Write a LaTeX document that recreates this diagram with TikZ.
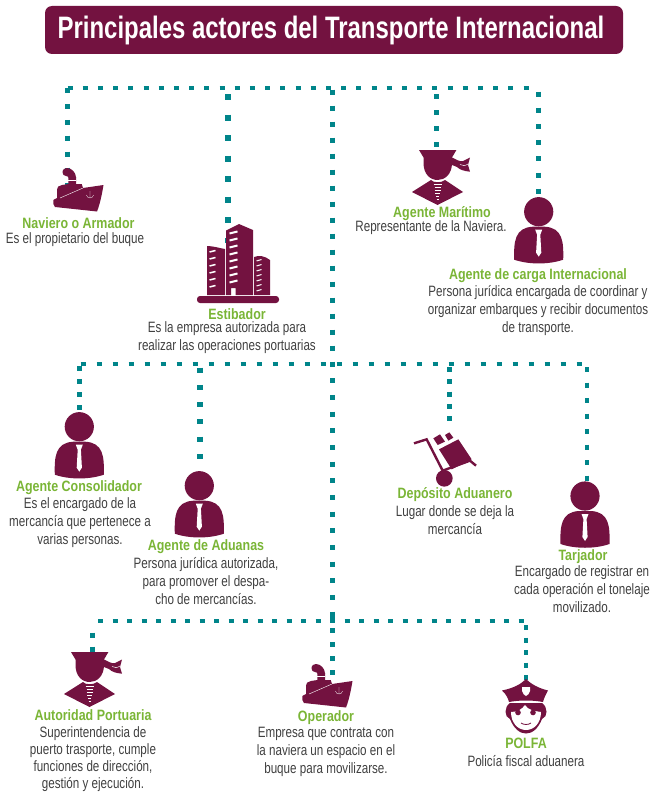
\documentclass[tikz,border=0pt]{standalone}
\usepackage{fontspec}
\usepackage{xcolor}
\setmainfont{Liberation Sans}[FakeStretch=0.775]
\newfontfamily\headfont{Liberation Sans}[FakeStretch=0.83]
\newfontfamily\titlefont{Liberation Sans}[FakeStretch=0.772]
\definecolor{vino}{HTML}{731240}
\definecolor{verde}{HTML}{7AB536}
\definecolor{petroleo}{HTML}{00858A}
\definecolor{texto}{HTML}{404040}
\tikzset{
  personicon/.pic={
    \fill[vino] (0,0) circle (14.6);
    \fill[vino] (-24.5,48) .. controls (-25,30) and (-24,16) .. (-6,15) -- (6,15) .. controls (24,16) and (25,30) .. (24.5,48) .. controls (10,53) and (-10,53) .. (-24.5,48) -- cycle;
    \fill[white] (-3.5,18) -- (3.5,18) -- (1.6,23) -- (2.6,41) -- (0,45) -- (-2.6,41) -- (-1.6,23) -- cycle;
  },
  captainicon/.pic={
    \fill[vino] (0,0) -- (37.4,0) -- (33,7.5) -- (33,13) .. controls (33,24) and (26,30) .. (18.7,30) .. controls (11,30) and (4.5,24) .. (4.5,13) -- (4.5,7.5) -- cycle;
    \fill[vino] (33,7.5) .. controls (37,9) and (40,12) .. (44,11) -- (51,7.5) -- (49,15) -- (51,21.7) .. controls (45,21) and (41,20) .. (38,17) -- (33,15) -- cycle;
    \draw[white,line width=.5] (41,14.5) .. controls (44,16) and (46,16) .. (49,14);
    \fill[vino] (-7,42) -- (12,30) .. controls (14,33) and (23,33) .. (26,30) -- (44,42) -- (18.5,55) -- cycle;
    \foreach \yy/\hw in {34/4,37/3,40/3,43/2.5,46/1.5,49/1}
      \draw[white,line width=.5] (18.5-\hw,\yy) -- (18.5+\hw,\yy);
  },
  shipicon/.pic={
    \fill[vino] (0.3,33) -- (4,31) -- (4,24) .. controls (4,20) and (6,18) .. (9,18) -- (15.3,17) -- (15.3,10) -- (23,10) -- (23,17) -- (28.7,17) -- (30,21) -- (50.5,18) .. controls (49,27) and (47,37) .. (44,44.5) -- (2,40) .. controls (0,38) and (0,36) .. (0.3,33) -- cycle;
    \fill[vino] (9.5,5.5) .. controls (9.5,2) and (12,1) .. (14,1) .. controls (19,1) and (23,6) .. (23,10.5) -- (15.3,10.5) .. controls (16,8.5) and (9.5,10) .. (9.5,5.5) -- cycle;
    \draw[white,line width=.4] (7,31) -- (30,21);
    \draw[white,line width=.4] (15.3,13.5) -- (23,13.5);
    \draw[white,line width=.3] (37,24) -- (37,31) (33.5,28) .. controls (34,32) and (40,32) .. (40.5,28);
  },
  towericon/.pic={
    \fill[vino] (10,22) .. controls (16,22) and (22,24) .. (28,25) -- (28,71) -- (10,71) -- cycle;
    \fill[vino] (29,6.5) -- (42,0) -- (56,6) -- (56,71) -- (38.5,71) -- (38.5,64) -- (34,64) -- (34,71) -- (29,71) -- cycle;
    \fill[vino] (57,33) .. controls (62,31) and (68,32) .. (73,36) -- (73,71) -- (57,71) -- cycle;
    \fill[vino,rounded corners=3] (0,72) rectangle (82,79);
    \foreach \yy in {8,15,22,29,36,43,50,57}
      \draw[white,line width=2] (32.5,\yy+1.5) -- (40.5,\yy-0.5);
    \foreach \yy in {27,34,41,48,55,62}
      \draw[white,line width=1.5] (12.5,\yy+1) -- (18.5,\yy-0.5);
    \foreach \yy in {36,41,46,51,56,61,66}
      \draw[white,line width=1] (59.5,\yy+1) -- (64.5,\yy-0.5);
  },
  carticon/.pic={
    \begin{scope}[scale=1/3]
      \draw[vino,line width=2.4] (72,130) -- (110,118) -- (158,212) -- (240,182) -- (258,197);
      \fill[vino] (163,235) circle (25);
      \fill[vino] (147,148) -- (205,118) -- (245,178) -- (185,208) -- cycle;
      \fill[vino] (130,115) -- (150,103) -- (165,125) -- (143,135) -- cycle;
      \fill[vino] (165,105) -- (178,97) -- (190,113) -- (175,122) -- cycle;
    \end{scope}
  },
  policeicon/.pic={
    \fill[vino] (0,0) .. controls (5,5) and (12,9) .. (22,11.5) .. controls (20,15) and (18,19) .. (17,23) .. controls (7,21) and (-7,21) .. (-17,23) .. controls (-18,19) and (-20,15) .. (-24,11.5) .. controls (-12,9) and (-5,5) .. (0,0) -- cycle;
    \fill[white] (-4,8) -- (4,8) -- (4,12) .. controls (4,15) and (1,16) .. (0,17) .. controls (-1,16) and (-4,15) .. (-4,12) -- cycle;
    \fill[vino] (-16,24) -- (16,24) .. controls (22,28) and (22,38) .. (16,40) .. controls (12,50) and (6,54.5) .. (0,54.5) .. controls (-6,54.5) and (-12,50) .. (-16,40) .. controls (-22,38) and (-22,28) .. (-16,24) -- cycle;
    \fill[white] (-15,33) .. controls (-8,33) and (-4,30) .. (-1,26) .. controls (2,31) and (8,32) .. (15,33) .. controls (15,44) and (8,51) .. (0,51) .. controls (-8,51) and (-15,44) .. (-15,33) -- cycle;
    \fill[vino] (-8,33.5) circle (2.8) (7,33.5) circle (2.8);
    \draw[vino,line width=.8] (-5,44) .. controls (-2,46) and (2,46) .. (5,44);
  }
}
\begin{document}
\begin{tikzpicture}[x=1pt,y=-1pt,
  title box/.style={fill=vino,rounded corners=7,minimum width=578,minimum height=48,inner sep=0,text=white,font=\fontsize{31}{33}\titlefont\bfseries\selectfont},
  head node/.style={text=verde,inner sep=0,font=\fontsize{15}{16}\headfont\bfseries\selectfont},
  body node/.style={text=texto,inner sep=0,align=center,font=\fontsize{15}{18}\selectfont},
  dot line/.style={draw=petroleo,line width=4.8pt,dash pattern=on 5pt off #1pt},
  dot line/.default=10]
  \useasboundingbox (0,0) rectangle (652,792);
  \node[title box] (title) at (334,30) {Principales actores del Transporte Internacional\hspace*{6pt}};
  % first row
  \coordinate (topa) at (67.5,88);
  \coordinate (topb) at (538,88);
  \coordinate (mida) at (332.3,89.5);
  \coordinate (midb) at (332.3,361.5);
  \coordinate (midc) at (332.3,614);
  \coordinate (midd) at (332.3,681);
  \coordinate (estia) at (228,94);
  \coordinate (estib) at (228,243);
  \coordinate (navia) at (67.7,88);
  \coordinate (navib) at (67.7,188);
  \coordinate (mara) at (436.7,94.3);
  \coordinate (marb) at (436.7,148);
  \coordinate (cara) at (538.7,91.5);
  \coordinate (carb) at (538.7,194);
  % second row
  \coordinate (seca) at (80.5,364);
  \coordinate (secb) at (590,364);
  \coordinate (cona) at (79.7,365.5);
  \coordinate (conb) at (79.7,410);
  \coordinate (adua) at (200,367.5);
  \coordinate (adub) at (200,463);
  \coordinate (depa) at (449.3,367);
  \coordinate (depb) at (449.3,426);
  \coordinate (tara) at (587,367);
  \coordinate (tarb) at (587,482);
  % third row
  \coordinate (thia) at (98,621);
  \coordinate (thib) at (525,621);
  \coordinate (auta) at (92.7,632.5);
  \coordinate (autb) at (92.7,652);
  \coordinate (pola) at (526,625);
  \coordinate (polb) at (526,680);
  \draw[dot line=10.2] (topa) -- (topb);
  \draw[dot line=11] (mida) -- (midb);
  \draw[dot line=11.67] (midb) -- (midc);
  \draw[dot line=9] (midc) -- (midd);
  \draw[dot line=14.2,line width=6.3pt,dash pattern=on 6.3pt off 14.2pt] (estia) -- (estib);
  \draw[dot line=10.9] (navia) -- (navib);
  \draw[dot line=11] (mara) -- (marb);
  \draw[dot line=11.2] (cara) -- (carb);
  \draw[dot line=11] (seca) -- (secb);
  \draw[dot line=8.3,line width=4.5pt] (cona) -- (conb);
  \draw[dot line=12.3,line width=5.5pt] (adua) -- (adub);
  \draw[dot line=7.3] (depa) -- (depb);
  \draw[dot line=10.5] (tara) -- (tarb);
  \draw[dot line=9.5,line width=4pt] (thia) -- (thib);
  \draw[dot line=9] (auta) -- (autb);
  \draw[dot line=7.5] (pola) -- (polb);
  % icons
  \pic at (53,167) {shipicon};
  \pic at (197,224) {towericon};
  \pic at (419,150) {captainicon};
  \pic at (538.7,211.7) {personicon};
  \pic at (79.3,426.7) {personicon};
  \pic at (199.3,485.7) {personicon};
  \pic at (390,400) {carticon};
  \pic at (585,496) {personicon};
  \pic at (71,652) {captainicon};
  \pic at (302,663) {shipicon};
  \pic at (526,679) {policeicon};
  % labels
  \node[head node] (naviero) at (78.5,223) {Naviero o Armador};
  \node[body node] (navierotxt) at (75,239.5) {Es el propietario del buque};
  \node[head node] (estibador) at (237,314) {Estibador};
  \node[body node] (estibadortxt) at (227,338) {Es la empresa autorizada para\\realizar las operaciones portuarias};
  \node[head node] (maritimo) at (442,213.5) {Agente Marítimo};
  \node[body node] (maritimotxt) at (431,227.5) {Representante de la Naviera.};
  \node[head node] (carga) at (538,276) {Agente de carga Internacional};
  \node[body node] (cargatxt) at (538,310.5) {Persona jurídica encargada de coordinar y\\organizar embarques y recibir documentos\\de transporte.};
  \node[head node] (consolidador) at (79,488) {Agente Consolidador};
  \node[body node] (consolidadortxt) at (80,522.5) {Es el encargado de la\\mercancía que pertenece a\\varias personas.};
  \node[head node] (aduanas) at (206,547) {Agente de Aduanas};
  \node[body node] (aduanastxt) at (206,581.5) {Persona jurídica autorizada,\\para promover el despa-\\cho de mercancías.};
  \node[head node] (deposito) at (455,495) {Depósito Aduanero};
  \node[body node] (depositotxt) at (455,520) {Lugar donde se deja la\\mercancía};
  \node[head node] (tarjador) at (583,557) {Tarjador};
  \node[body node] (tarjadortxt) at (582,589) {Encargado de registrar en\\cada operación el tonelaje\\movilizado.};
  \node[head node] (autoridad) at (93,715.5) {Autoridad Portuaria};
  \node[body node,font=\fontsize{15}{17.2}\selectfont] (autoridadtxt) at (93,759) {Superintendencia de\\puerto trasporte, cumple\\funciones de dirección,\\gestión y ejecución.};
  \node[head node] (operador) at (326,717.5) {Operador};
  \node[body node] (operadortxt) at (326,751.5) {Empresa que contrata con\\la naviera un espacio en el\\buque para movilizarse.};
  \node[head node] (polfa) at (526,743) {POLFA};
  \node[body node] (polfatxt) at (526,761.5) {Policía fiscal aduanera};
\end{tikzpicture}
\end{document}
